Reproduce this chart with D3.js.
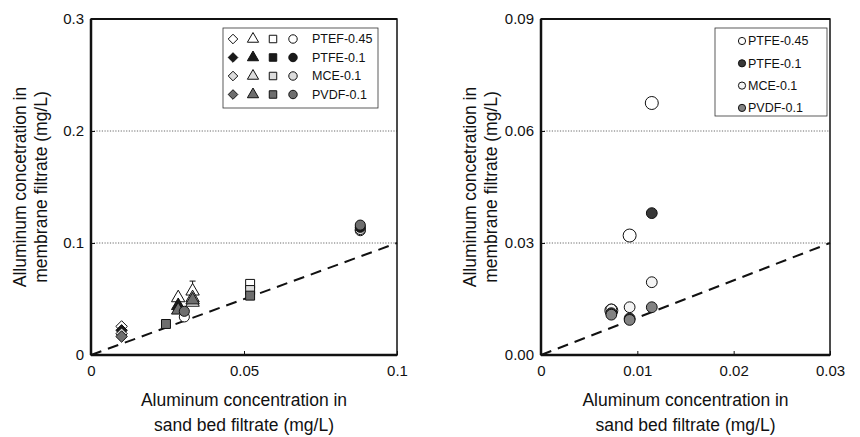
<!DOCTYPE html>
<html><head><meta charset="utf-8">
<script src="https://cdn.jsdelivr.net/npm/d3@7"></script>
<style>body{margin:0;background:#fff}svg{display:block}text{font-family:"Liberation Sans",Arial,sans-serif;fill:#111}</style>
</head><body><svg id="c" width="860" height="437"></svg>
<script>
// ---- data ----
const leftXTicks = [0, 0.05, 0.1];
const leftXTickLabels = ["0", "0.05", "0.1"];
const leftYTicks = [0, 0.1, 0.2, 0.3];
const leftYTickLabels = ["0", "0.1", "0.2", "0.3"];
const leftGrid = [0.1, 0.2];
const leftMembranes = ["PTEF-0.45", "PTFE-0.1", "MCE-0.1", "PVDF-0.1"];
const symbolKinds = ["diamond", "triangle", "square", "circle"];
// [membraneIndex, symbol, x, y]
const leftPoints = [
  [0, "diamond", 0.010, 0.0255],
  [1, "diamond", 0.010, 0.022],
  [2, "diamond", 0.010, 0.019],
  [3, "diamond", 0.010, 0.0165],
  [0, "triangle", 0.0285, 0.051],
  [0, "triangle", 0.0332, 0.057],
  [0, "triangle", 0.0332, 0.047],
  [1, "triangle", 0.0285, 0.044],
  [2, "triangle", 0.0332, 0.051],
  [3, "triangle", 0.0285, 0.040],
  [3, "triangle", 0.0332, 0.049],
  [0, "circle", 0.0305, 0.034],
  [3, "circle", 0.0305, 0.039],
  [3, "square", 0.0245, 0.0277],
  [0, "square", 0.052, 0.0635],
  [2, "square", 0.052, 0.058],
  [3, "square", 0.052, 0.053],
  [0, "circle", 0.088, 0.111],
  [2, "circle", 0.088, 0.112],
  [1, "circle", 0.088, 0.114],
  [3, "circle", 0.088, 0.116]
];
// error bars: [x, yLow, yHigh]
const leftErrors = [[0.0332, 0.057, 0.066]];

const rightXTicks = [0, 0.01, 0.02, 0.03];
const rightXTickLabels = ["0", "0.01", "0.02", "0.03"];
const rightYTicks = [0, 0.03, 0.06, 0.09];
const rightYTickLabels = ["0.00", "0.03", "0.06", "0.09"];
const rightGrid = [0.03, 0.06];
const rightMembranes = ["PTFE-0.45", "PTFE-0.1", "MCE-0.1", "PVDF-0.1"];
const rightX = [0.0073, 0.0092, 0.0115];
const rightPTFE045 = [0.0119, 0.032, 0.0675];
const rightPTFE01 = [0.0112, 0.0098, 0.038];
const rightMCE01 = [0.0122, 0.0128, 0.0195];
const rightPVDF01 = [0.0108, 0.0094, 0.0128];

const yTitle = ["Alluminum concetration in", "membrane filtrate (mg/L)"];
const xTitle = ["Aluminum concentration in", "sand bed filtrate (mg/L)"];

// ---- styles ----
const leftFill = ["#fff", "#1a1a1a", "#dcdcdc", "#6e6e6e"];
const rightFill = ["#fff", "#383838", "#f4f4f4", "#828282"];
const diamondSym = {draw(ctx, size) { const r = Math.sqrt(size / 2); ctx.moveTo(0, -r); ctx.lineTo(r, 0); ctx.lineTo(0, r); ctx.lineTo(-r, 0); ctx.closePath(); }};
const symMap = {diamond: diamondSym, triangle: d3.symbolTriangle, square: d3.symbolSquare, circle: d3.symbolCircle};
const symSize = {diamond: 66, triangle: 78, square: 80, circle: 80};

const svg = d3.select("#c");

function panel(opts) {
  const g = svg.append("g");
  const x = d3.scaleLinear().domain(opts.xDomain).range([opts.x0, opts.x1]);
  const y = d3.scaleLinear().domain(opts.yDomain).range([opts.y0, opts.y1]);
  g.selectAll(".grid").data(opts.grid).join("line")
    .attr("x1", opts.x0).attr("x2", opts.x1)
    .attr("y1", d => y(d)).attr("y2", d => y(d))
    .attr("stroke", "#444").attr("stroke-width", 0.8).attr("stroke-dasharray", "1.2,1.5");
  g.append("rect").attr("x", opts.x0).attr("y", opts.y1).attr("width", opts.x1 - opts.x0).attr("height", opts.y0 - opts.y1)
    .attr("fill", "none").attr("stroke", "#111").attr("stroke-width", 1.5);
  g.append("line").attr("x1", opts.x0).attr("x2", opts.x1).attr("y1", opts.y1).attr("y2", opts.y1).attr("stroke", "#111").attr("stroke-width", 2);
  g.append("line").attr("x1", opts.x0).attr("x2", opts.x0).attr("y1", opts.y1).attr("y2", opts.y0).attr("stroke", "#111").attr("stroke-width", 2.5);
  g.append("line").attr("x1", opts.x0).attr("x2", opts.x1).attr("y1", opts.y0).attr("y2", opts.y0).attr("stroke", "#111").attr("stroke-width", 2.5);
  const xa = d3.axisBottom(x).tickValues(opts.xTicks).tickFormat((d, i) => opts.xLabels[i]).tickSize(-4).tickPadding(8);
  const xg = g.append("g").attr("transform", `translate(0,${opts.y0})`).call(xa);
  xg.select(".domain").remove();
  xg.selectAll("text").attr("font-size", 15).attr("dy", "0.85em");
  xg.selectAll("line").attr("stroke", "#111");
  const ya = d3.axisLeft(y).tickValues(opts.yTicks).tickFormat((d, i) => opts.yLabels[i]).tickSize(-4).tickPadding(7);
  const yg = g.append("g").attr("transform", `translate(${opts.x0},0)`).call(ya);
  yg.select(".domain").remove();
  yg.selectAll("text").attr("font-size", 15);
  yg.selectAll("line").attr("stroke", "#111");
  const lim = Math.min(opts.xDomain[1], opts.yDomain[1]);
  g.append("line").attr("x1", x(0)).attr("y1", y(0)).attr("x2", x(lim)).attr("y2", y(lim))
    .attr("stroke", "#111").attr("stroke-width", 2).attr("stroke-dasharray", "11,7");
  const cx = (opts.x0 + opts.x1) / 2;
  const t = g.append("text").attr("text-anchor", "middle").attr("font-size", 17.5);
  xTitle.forEach((s, i) => t.append("tspan").attr("x", cx).attr("y", opts.y0 + 51 + i * 25).text(s));
  const cy = (opts.y0 + opts.y1) / 2;
  const yt = g.append("text").attr("text-anchor", "middle").attr("font-size", 17.5)
    .attr("transform", `translate(${opts.titleX},${cy}) rotate(-90)`);
  yTitle.forEach((s, i) => yt.append("tspan").attr("x", 0).attr("y", i * 21).text(s));
  return {g, x, y};
}

// ---- left ----
const L = panel({xDomain: [0, 0.1], yDomain: [0, 0.3], x0: 91, x1: 397, y0: 355, y1: 19,
  grid: leftGrid, xTicks: leftXTicks, xLabels: leftXTickLabels, yTicks: leftYTicks, yLabels: leftYTickLabels, titleX: 26});

L.g.selectAll(".err").data(leftErrors).join("g").each(function(d) {
  const e = d3.select(this);
  e.append("line").attr("x1", L.x(d[0])).attr("x2", L.x(d[0])).attr("y1", L.y(d[1])).attr("y2", L.y(d[2])).attr("stroke", "#111");
  e.append("line").attr("x1", L.x(d[0]) - 3).attr("x2", L.x(d[0]) + 3).attr("y1", L.y(d[2])).attr("y2", L.y(d[2])).attr("stroke", "#111");
});
L.g.selectAll(".pt").data(leftPoints).join("path")
  .attr("d", d => d3.symbol(symMap[d[1]], symSize[d[1]])())
  .attr("transform", d => `translate(${L.x(d[2])},${L.y(d[3])})`)
  .attr("fill", d => leftFill[d[0]]).attr("stroke", "#111").attr("stroke-width", 1);

const lg = L.g.append("g");
lg.append("rect").attr("x", 223).attr("y", 28).attr("width", 155).attr("height", 80).attr("fill", "#fff").attr("stroke", "#333").attr("stroke-width", 0.8);
leftMembranes.forEach((m, i) => {
  const yy = 39 + i * 18.5;
  symbolKinds.forEach((s, j) => {
    lg.append("path").attr("d", d3.symbol(symMap[s], symSize[s] * 0.7)())
      .attr("transform", `translate(${233 + j * 20},${yy})`)
      .attr("fill", leftFill[i]).attr("stroke", "#111").attr("stroke-width", 1);
  });
  lg.append("text").attr("x", 312).attr("y", yy).attr("dy", "0.35em").attr("font-size", 12.5).text(m);
});

// ---- right ----
const R = panel({xDomain: [0, 0.03], yDomain: [0, 0.09], x0: 541, x1: 830, y0: 355, y1: 19,
  grid: rightGrid, xTicks: rightXTicks, xLabels: rightXTickLabels, yTicks: rightYTicks, yLabels: rightYTickLabels, titleX: 476});

const rightSeries = [rightPTFE045, rightPTFE01, rightMCE01, rightPVDF01];
[0, 2, 1, 3].forEach(k => {
  R.g.selectAll(".r" + k).data(rightX.map((xv, i) => [xv, rightSeries[k][i]])).join("circle")
    .attr("cx", d => R.x(d[0])).attr("cy", d => R.y(d[1])).attr("r", k === 0 ? 6.5 : 5.4)
    .attr("fill", rightFill[k]).attr("stroke", "#111").attr("stroke-width", 1);
});
const rg = R.g.append("g");
rg.append("rect").attr("x", 715).attr("y", 28).attr("width", 112).attr("height", 88).attr("fill", "#fff").attr("stroke", "#333").attr("stroke-width", 0.8);
rightMembranes.forEach((m, i) => {
  const yy = 41 + i * 22.3;
  rg.append("circle").attr("cx", 742).attr("cy", yy).attr("r", 3.6).attr("fill", rightFill[i]).attr("stroke", "#111");
  rg.append("text").attr("x", 748).attr("y", yy).attr("dy", "0.35em").attr("font-size", 12.5).text(m);
});
</script></body></html>
